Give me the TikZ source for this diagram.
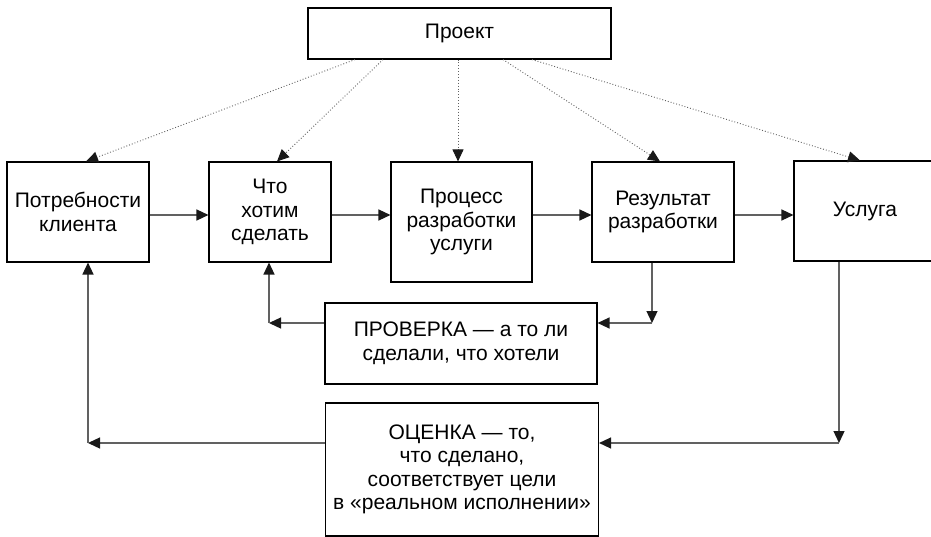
\documentclass[tikz,border=0pt]{standalone}
\usepackage{fontspec}
\setmainfont{Liberation Sans}
\usetikzlibrary{arrows.meta}
\begin{document}
\begin{tikzpicture}[x=1pt,y=-1pt,
  box/.style={draw=black,line width=1.1pt,align=center,inner sep=0pt,
    font=\fontsize{21}{23.5}\selectfont},
  conn/.style={draw=black!62,line width=1.3pt},
  tip/.style={-{Triangle[length=12pt,width=11pt,color=black!90]}},
  dots/.style={draw=black!62,line width=0.9pt,dotted,-{Triangle[length=12pt,width=11pt,color=black!90]}}]
\useasboundingbox (0,0) rectangle (931,537);
\fill[white] (0,0) rectangle (931,537);
% boxes
\node[box,minimum width=303pt,minimum height=51pt] (proj) at (459.5,33.5) {Проект};
\node[box,minimum width=142pt,minimum height=100pt] (n1) at (78,212) {Потребности\\клиента};
\node[box,minimum width=122pt,minimum height=100pt] (n2) at (270,212) {Что\\хотим\\сделать};
\node[box,minimum width=141pt,minimum height=120pt] (n3) at (461.5,222) {Процесс\\разработки\\услуги};
\node[box,minimum width=142pt,minimum height=100pt] (n4) at (663,212) {Результат\\разработки};
\node[box,minimum width=142pt,minimum height=100pt] (n5) at (865,211) {Услуга};
\node[box,minimum width=272pt,minimum height=81pt] (chk) at (461,343.5) {ПРОВЕРКА — а то ли\\сделали, что хотели};
\node[box,minimum width=273pt,minimum height=133pt] (eval) at (462,469.5) {ОЦЕНКА — то,\\что сделано,\\соответствует цели\\в «реальном исполнении»};
% corner coordinates
\coordinate (c1) at (652,323);
\coordinate (c2) at (269,323);
\coordinate (c3) at (839,443);
\coordinate (c4) at (88,443);
% main row arrows
\draw[conn,tip] (n1.east |- 0,215) -- (n2.west |- 0,215);
\draw[conn,tip] (n2.east |- 0,215) -- (n3.west |- 0,215);
\draw[conn,tip] (n3.east |- 0,215) -- (n4.west |- 0,215);
\draw[conn,tip] (n4.east |- 0,215) -- (n5.west |- 0,215);
% check loop
\draw[conn,tip] (n4.south -| c1) -- (c1);
\draw[conn,tip] (c1) -- (chk.east |- c1);
\draw[conn,tip] (chk.west |- c2) -- (c2);
\draw[conn,tip] (c2) -- (n2.south -| c2);
% evaluation loop
\draw[conn,tip] (n5.south -| c3) -- (c3);
\draw[conn,tip] (c3) -- (eval.east |- c3);
\draw[conn,tip] (eval.west |- c4) -- (c4);
\draw[conn,tip] (c4) -- (n1.south -| c4);
% dotted arrows from project
\draw[dots] (proj.south -| 355,0) -- (n1.north -| 86,0);
\draw[dots] (proj.south -| 383,0) -- (n2.north -| 277,0);
\draw[dots] (proj.south -| 458,0) -- (n3.north -| 458,0);
\draw[dots] (proj.south -| 503,0) -- (n4.north -| 660,0);
\draw[dots] (proj.south -| 532,0) -- (n5.north -| 860,0);
\end{tikzpicture}
\end{document}
